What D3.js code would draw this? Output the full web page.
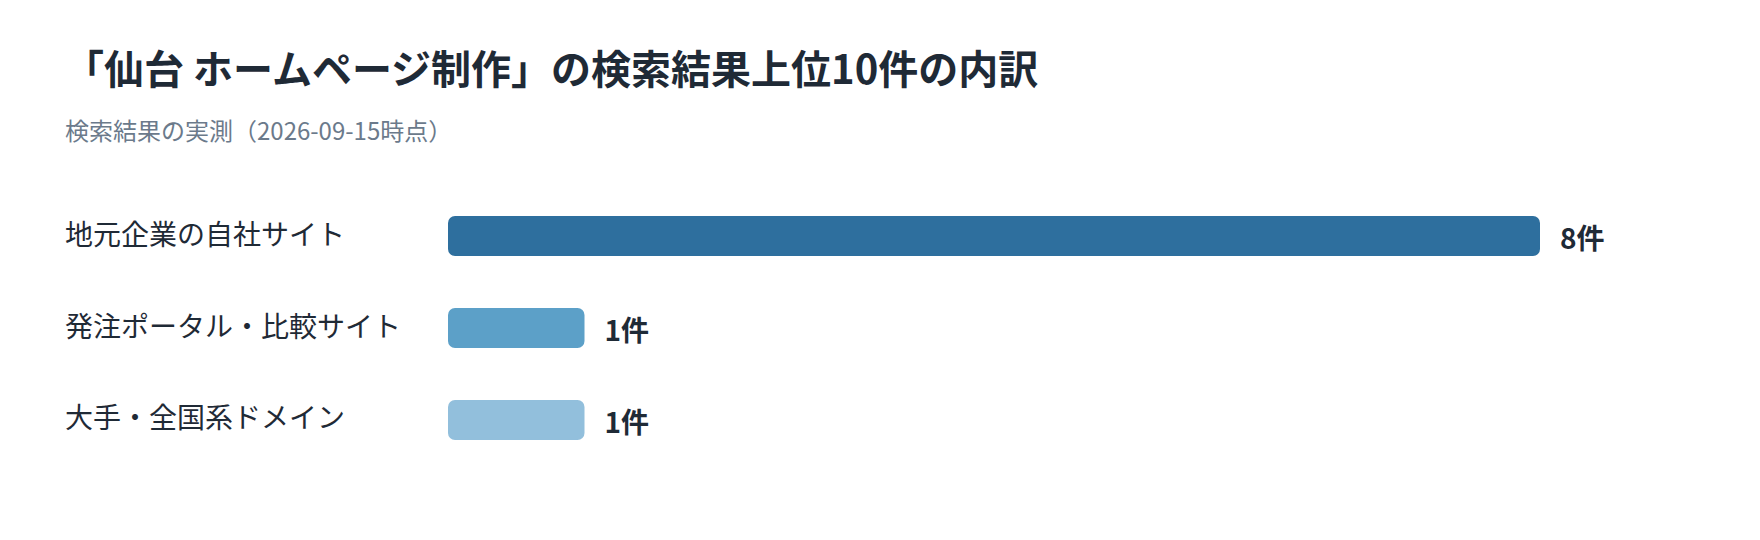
<!DOCTYPE html>
<html><head><meta charset="utf-8">
<script src="https://cdn.jsdelivr.net/npm/d3@7"></script>
<style>html,body{margin:0;padding:0;background:#fff;}</style>
</head><body>
<svg id="chart" width="1760" height="540"></svg>
<script>
const titleText = "「仙台 ホームページ制作」の検索結果上位10件の内訳";
const subtitleText = "検索結果の実測（2026-09-15時点）";
const categories = ["地元企業の自社サイト", "発注ポータル・比較サイト", "大手・全国系ドメイン"];
const values = [8, 1, 1];
const valueSuffix = "件";
const colors = ["#2e6f9e", "#5ca0c8", "#92bfdc"];

const font = "'Noto Sans CJK JP', 'Noto Sans', sans-serif";
const svg = d3.select("#chart");
svg.append("rect").attr("width",1760).attr("height",540).attr("fill","#fff");

svg.append("text").attr("x",64).attr("y",84)
  .attr("font-family",font).attr("font-size",40).attr("font-weight",700)
  .attr("fill","#1f2a36").text(titleText);
svg.append("text").attr("x",65).attr("y",140)
  .attr("font-family",font).attr("font-size",24).attr("font-weight",400)
  .attr("fill","#6b7a8b").text(subtitleText);

const x = d3.scaleLinear().domain([0, 8]).range([448, 1540]);
const y = d3.scaleBand().domain(categories).range([216, 440]).paddingInner(0.565).paddingOuter(0);
const data = categories.map((c,i)=>({c, v: values[i], col: colors[i]}));

const g = svg.append("g");
g.selectAll("rect.bar").data(data).join("rect").attr("class","bar")
  .attr("x", x(0)).attr("y", d=>y(d.c))
  .attr("width", d=>x(d.v)-x(0)).attr("height", y.bandwidth())
  .attr("rx",7).attr("ry",7).attr("fill", d=>d.col);

g.selectAll("text.cat").data(data).join("text").attr("class","cat")
  .attr("x",65).attr("y", d=>y(d.c)+y.bandwidth()/2+8.5)
  .attr("font-family",font).attr("font-size",28).attr("fill","#1f2a36")
  .text(d=>d.c);

g.selectAll("text.val").data(data).join("text").attr("class","val")
  .attr("x", d=>x(d.v)+20).attr("y", d=>y(d.c)+y.bandwidth()/2+13)
  .attr("font-family",font).attr("font-size",28).attr("font-weight",700).attr("fill","#1f2a36")
  .text(d=>d.v+valueSuffix);
</script>
</body></html>
